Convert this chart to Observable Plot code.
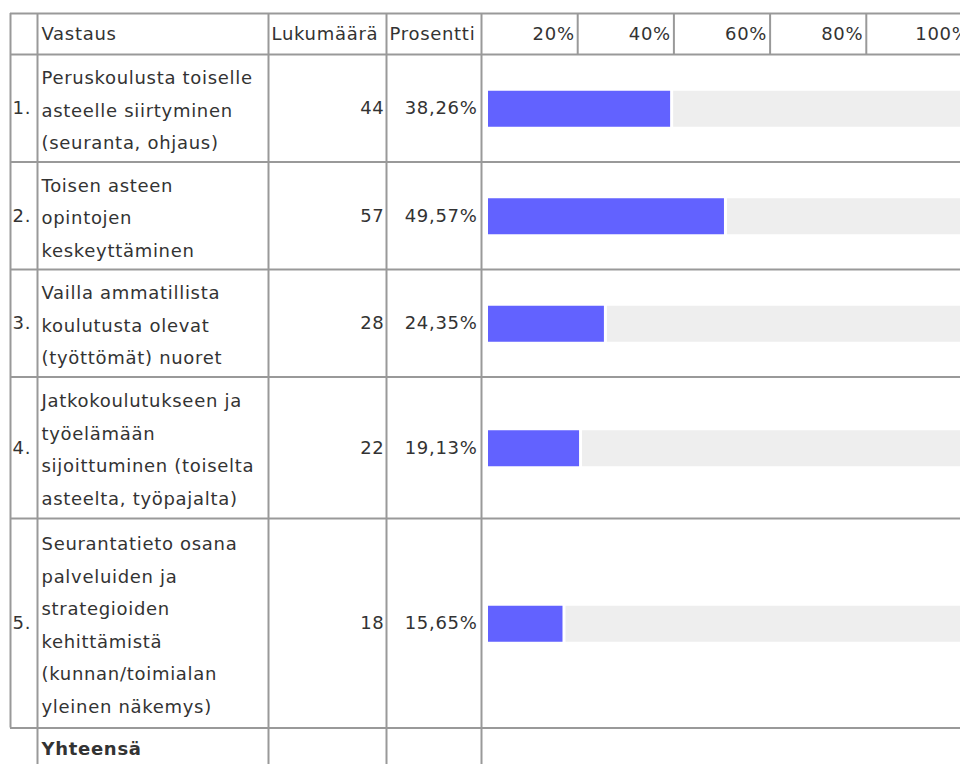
<!DOCTYPE html>
<html><head><meta charset="utf-8">
<script src="https://cdn.jsdelivr.net/npm/d3@7"></script>
<script src="https://cdn.jsdelivr.net/npm/@observablehq/plot@0.6"></script>
<style>html,body{margin:0;padding:0;background:#fff;overflow:hidden}</style>
</head><body><div id="chart"></div>
<script>
// ---- data ----
const numbers = ["1.", "2.", "3.", "4.", "5."];
const answers = [
  ["Peruskoulusta toiselle", "asteelle siirtyminen", "(seuranta, ohjaus)"],
  ["Toisen asteen", "opintojen", "keskeyttäminen"],
  ["Vailla ammatillista", "koulutusta olevat", "(työttömät) nuoret"],
  ["Jatkokoulutukseen ja", "työelämään", "sijoittuminen (toiselta", "asteelta, työpajalta)"],
  ["Seurantatieto osana", "palveluiden ja", "strategioiden", "kehittämistä", "(kunnan/toimialan", "yleinen näkemys)"]
];
const counts = [44, 57, 28, 22, 18];
const percents = [38.26, 49.57, 24.35, 19.13, 15.65];
const percentLabels = ["38,26%", "49,57%", "24,35%", "19,13%", "15,65%"];
const headers = ["Vastaus", "Lukumäärä", "Prosentti"];
const tickLabels = ["20%", "40%", "60%", "80%", "100%"];
const totalLabel = "Yhteensä";

// ---- layout ----
const W = 960, H = 764;
const TOP = 13, HEAD_B = 54, LINE_H = 34, PAD = 5.5;
const C0 = 10, C1 = 37, C2 = 268, C3 = 386, C4 = 481, TICK_COL = 96.2;
const X0 = 488, X100 = 964;
const FS = 18;
const FONT = "Verdana, 'DejaVu Sans', sans-serif";
const GRID = "#999", INK = "#333";

const xs = Plot.scale({x: {domain: [0, 100], range: [X0, X100]}});
const px = v => xs.invert(v);

let cursor = HEAD_B;
const rows = numbers.map((n, i) => {
  const h = answers[i].length * LINE_H + PAD;
  const r = {num: n, text: answers[i].join("\n"), count: String(counts[i]),
    pct: percents[i], pctLabel: percentLabels[i], top: cursor, bottom: cursor + h, mid: cursor + h / 2};
  cursor += h;
  return r;
});
const TABLE_B = cursor;
const TOTAL_MID = TABLE_B + 21;

const hLines = [TOP, HEAD_B, ...rows.map(r => r.bottom)];
const tickCols = tickLabels.map((t, k) => ({label: t, right: C4 + (k + 1) * TICK_COL + (k === 4 ? 10 : 0)}));

const chart = Plot.plot({
  width: W, height: H,
  marginTop: 0, marginRight: 0, marginBottom: 0, marginLeft: 0,
  x: {domain: [0, 100], range: [X0, X100], axis: null},
  y: {type: "identity", axis: null},
  style: {fontFamily: FONT, fontSize: FS + "px", background: "#fff", color: INK, overflow: "hidden", letterSpacing: "0.7px"},
  marks: [
    // bars
    Plot.rect(rows, {x1: () => 0, x2: "pct", y1: d => d.mid - 17, y2: d => d.mid + 19, fill: "#6262ff"}),
    Plot.rect(rows, {x1: "pct", x2: () => 100, insetLeft: 3, y1: d => d.mid - 17, y2: d => d.mid + 19, fill: "#eeeeee"}),
    // grid lines
    Plot.ruleY(hLines, {y: d => d, x1: () => px(C0), x2: () => px(W + 10), stroke: GRID, strokeWidth: 2}),
    Plot.ruleX([C0], {x: d => px(d), y1: TOP, y2: TABLE_B, stroke: GRID, strokeWidth: 2}),
    Plot.ruleX([C1, C2, C3, C4], {x: d => px(d), y1: TOP, y2: H + 5, stroke: GRID, strokeWidth: 2}),
    Plot.ruleX(tickCols.slice(0, 4), {x: d => px(d.right), y1: TOP, y2: HEAD_B, stroke: GRID, strokeWidth: 2}),
    // header texts
    Plot.text([headers[0]], {text: d => d, x: () => px(C1 + 4), y: (TOP + HEAD_B) / 2, textAnchor: "start", fill: INK, fontSize: FS}),
    Plot.text([headers[1]], {text: d => d, x: () => px(C2 + 3), y: (TOP + HEAD_B) / 2, textAnchor: "start", fill: INK, fontSize: FS}),
    Plot.text([headers[2]], {text: d => d, x: () => px(C3 + 3), y: (TOP + HEAD_B) / 2, textAnchor: "start", fill: INK, fontSize: FS}),
    Plot.text(tickCols, {text: "label", x: d => px(d.right - 3), y: (TOP + HEAD_B) / 2, textAnchor: "end", fill: INK, fontSize: FS}),
    // row texts
    Plot.text(rows, {text: "num", x: () => px(C0 + 2), y: "mid", textAnchor: "start", fill: INK, fontSize: FS}),
    Plot.text(rows, {text: "text", x: () => px(C1 + 4), y: d => d.mid - 2, textAnchor: "start", lineAnchor: "middle", lineHeight: 32.5 / FS, fill: INK, fontSize: FS}),
    Plot.text(rows, {text: "count", x: () => px(C3 - 2), y: "mid", textAnchor: "end", fill: INK, fontSize: FS}),
    Plot.text(rows, {text: "pctLabel", x: () => px(C4 - 4), y: "mid", textAnchor: "end", fill: INK, fontSize: FS}),
    // total row
    Plot.text([totalLabel], {text: d => d, x: () => px(C1 + 4), y: TOTAL_MID, textAnchor: "start", fill: INK, fontSize: FS, fontWeight: "bold"})
  ]
});
document.getElementById("chart").appendChild(chart);
</script>
</body></html>
